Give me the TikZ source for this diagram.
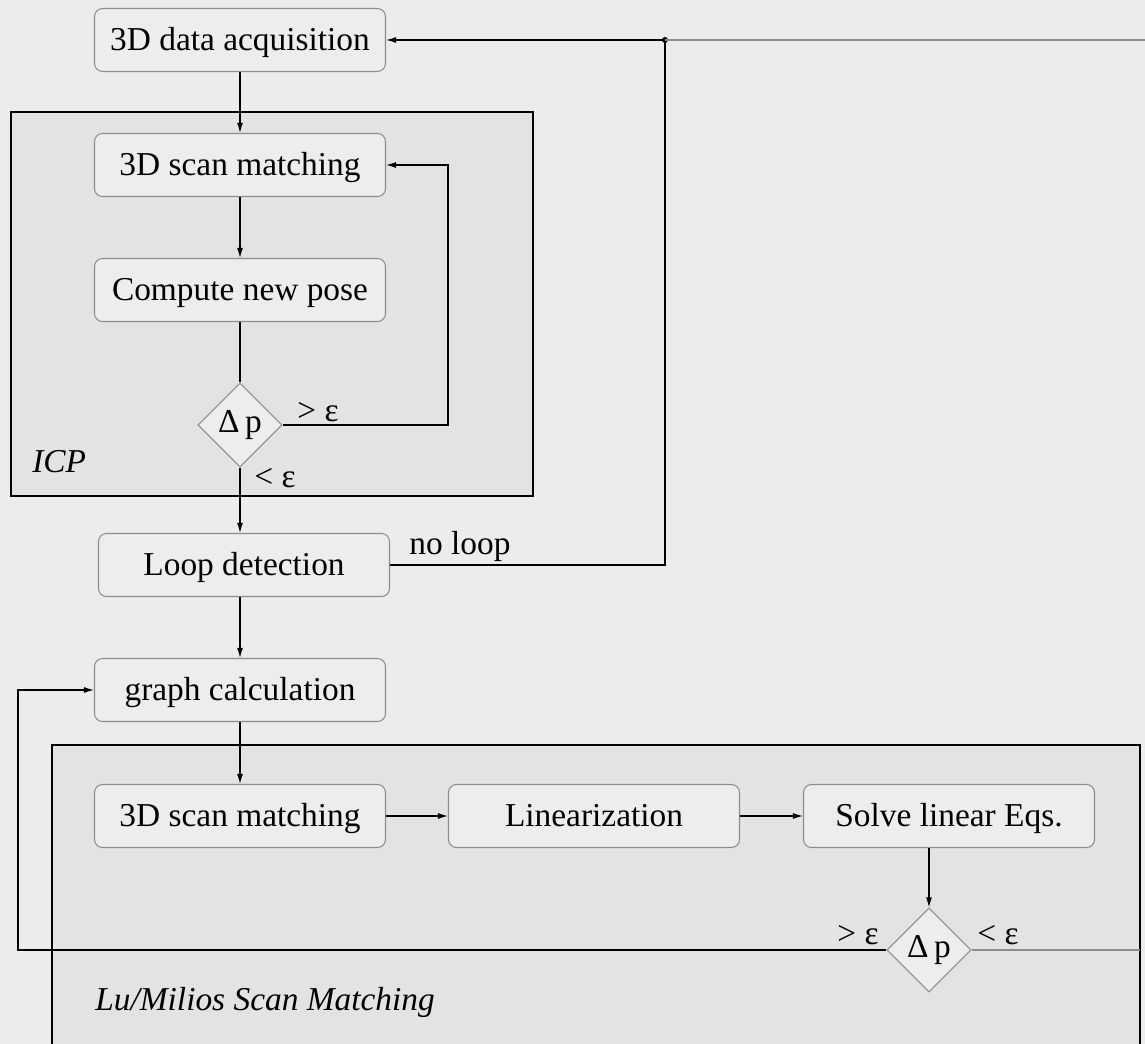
\documentclass[tikz,border=0pt]{standalone}
\usepackage{fontspec}
\setmainfont{Liberation Serif}
\usetikzlibrary{arrows.meta}
\usetikzlibrary{shapes.geometric}
\usetikzlibrary{positioning}
\definecolor{PageGray}{HTML}{ECECEC}
\definecolor{GroupGray}{HTML}{E3E3E3}
\definecolor{BoxGray}{HTML}{EDEDED}
\definecolor{EdgeGray}{HTML}{8C8C8C}

\tikzset{
  stepbox/.style = {draw = EdgeGray, fill = BoxGray, line width = .6pt,
    rounded corners = .16cm, minimum width = 5.82cm, minimum height = 1.26cm,
    inner sep = 0pt, text height = 14pt, text depth = 2pt,
    font = \fontsize{19}{22}\selectfont},
  testbox/.style = {draw = EdgeGray, fill = BoxGray, line width = .6pt,
    diamond, aspect = 1, minimum width = 1.68cm, minimum height = 1.68cm,
    inner sep = 0pt, font = \fontsize{19}{22}\selectfont},
  groupbox/.style = {draw = black, fill = GroupGray, line width = .8pt},
  flow/.style = {line width = .7pt, -{Latex[length=2mm, width=1.2mm]}},
  wire/.style = {line width = .7pt},
  tag/.style = {font = \fontsize{19}{22}\selectfont, inner sep = 0pt}
}

\begin{document}
\begin{tikzpicture}
  \useasboundingbox (0,0) rectangle (22.9,-20.88);
  \clip (0,0) rectangle (22.9,-20.88);
  \fill[PageGray] (0,0) rectangle (22.9,-20.88);

  % groups
  \draw[groupbox] (0.22,-2.24) rectangle (10.66,-9.92);
  \node[tag, font = \fontsize{19}{22}\selectfont\itshape, anchor = west]
    (icplabel) at (0.64,-9.24) {ICP};
  \draw[groupbox] (1.04,-14.9) rectangle (22.8,-21.3);
  \node[tag, font = \fontsize{19}{22}\selectfont\itshape, anchor = west]
    (lulabel) at (1.9,-20.04) {Lu/Milios Scan Matching};

  % steps
  \node[stepbox] (acq) at (4.8,-0.8) {3D data acquisition};
  \node[stepbox] (scanA) at (4.8,-3.3) {3D scan matching};
  \node[stepbox] (pose) at (4.8,-5.8) {Compute new pose};
  \node[testbox] (dpA) at (4.8,-8.5) {Δ\,p};
  \node[stepbox] (loop) at (4.88,-11.3) {Loop detection};
  \node[stepbox] (graph) at (4.8,-13.8) {graph calculation};
  \node[stepbox] (scanB) at (4.8,-16.32) {3D scan matching};
  \node[stepbox] (lin) at (11.88,-16.32) {Linearization};
  \node[stepbox] (solve) at (18.98,-16.32) {Solve linear Eqs.};
  \node[testbox] (dpB) at (18.58,-19.0) {Δ\,p};

  % turning points
  \coordinate (jn) at (13.3,-0.8);
  \coordinate (exitA) at (22.9,-0.8);
  \coordinate (icpturn) at (8.96,-8.5);
  \coordinate (back) at (0.36,-19.0);
  \coordinate (exitB) at (22.8,-19.0);

  % main flow
  \draw[flow] (acq) -- (scanA);
  \draw[flow] (scanA) -- (pose);
  \draw[wire] (pose) -- (dpA);
  \draw[flow] (dpA.south) -- (dpA.south |- loop.north);
  \draw[flow] (loop.south -| dpA) -- (graph);
  \draw[flow] (graph) -- (scanB);
  \draw[flow] (scanB) -- (lin);
  \draw[flow] (lin) -- (solve);
  \draw[flow] (dpB |- solve.south) -- (dpB);

  % loops back
  \draw[flow] (dpA.east) -- (icpturn) |- (scanA.east);
  \draw[wire] (loop.east) -| (jn);
  \draw[flow] (jn) -- (acq.east);
  \fill (jn) circle (.06);
  \draw[wire, draw = EdgeGray] (jn) -- (exitA);
  \draw[flow] (dpB.west) -- (back) |- (graph.west);
  \draw[wire, draw = EdgeGray] (dpB.east) -- (exitB);

  % labels
  \node[tag] (gtA) at (6.36,-8.24) {> ε};
  \node[tag] (ltA) at (5.5,-9.56) {< ε};
  \node[tag] (noloop) at (9.2,-10.92) {no loop};
  \node[tag] (gtB) at (17.16,-18.7) {> ε};
  \node[tag] (ltB) at (19.96,-18.7) {< ε};
\end{tikzpicture}
\end{document}
